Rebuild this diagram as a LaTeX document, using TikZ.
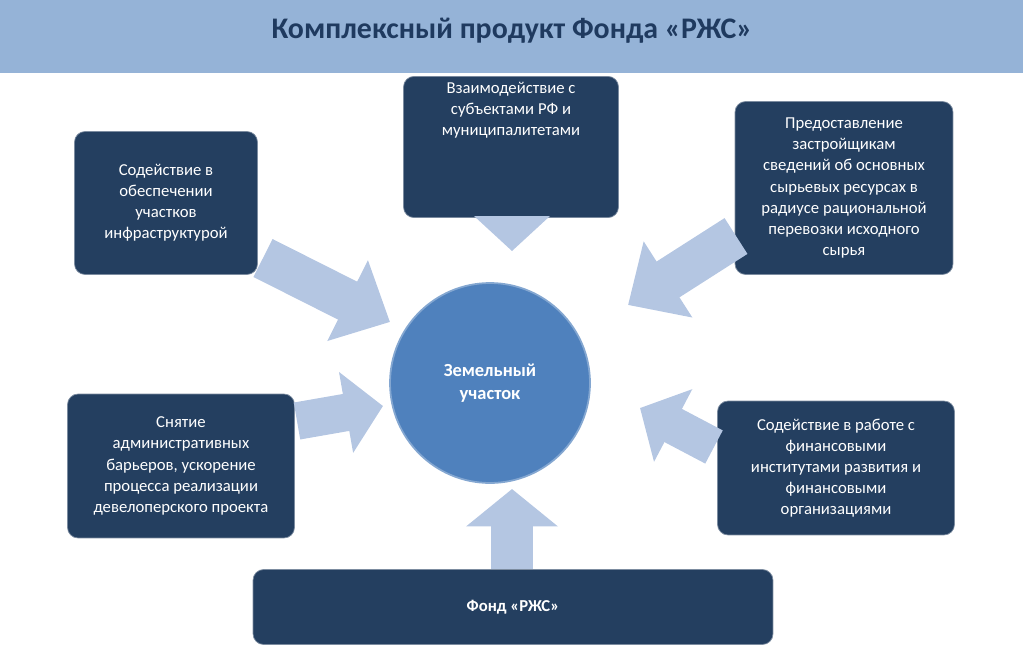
\documentclass[tikz,border=0pt]{standalone}
\usepackage{fontspec}
\setmainfont{Carlito}
\usetikzlibrary{arrows.meta}
\definecolor{banner}{HTML}{95B3D7}
\definecolor{titleblue}{HTML}{1F3A5F}
\definecolor{navy}{HTML}{243F60}
\definecolor{disk}{HTML}{4F81BD}
\definecolor{pale}{HTML}{B4C6E2}
\tikzset{
  infobox/.style={draw=navy!60!white,fill=navy,rounded corners=6pt,text=white,align=center,font=\fontsize{9.5}{12}\selectfont},
  bigarrow/.style={draw=pale,line width=0.85cm,-{Triangle[length=0.95cm,width=1.75cm]}}
}
\begin{document}
\begin{tikzpicture}[x=0.02cm,y=-0.02cm]
		\useasboundingbox (0,0) rectangle (1023,655);
		%Шапка
		\fill[banner] (0,0) rectangle (1023,73);
		\node (title) at (512,31) {\fontsize{17}{20}\selectfont\bfseries\color{titleblue}Комплексный продукт Фонда «РЖС»};
		%Центр
		\node[circle,draw=disk!70!white,line width=1pt,fill=disk,minimum size=4cm,text=white,align=center,font=\fontsize{10.5}{13}\selectfont\bfseries] (plot) at (490,383) {Земельный\\участок};
		%Блоки
		\node[infobox,minimum width=3.66cm,minimum height=2.86cm] (infra) at (166,203) {Содействие в\\обеспечении\\участков\\инфраструктурой};
		\node[infobox,minimum width=4.3cm,minimum height=2.62cm] (subj) at (511,147) {Взаимодействие с\\субъектами РФ и\\муниципалитетами\\[1.1cm]};
		\node[infobox,minimum width=4.36cm,minimum height=3.46cm] (res) at (844,188) {Предоставление\\застройщикам\\сведений об основных\\сырьевых ресурсах в\\радиусе рациональной\\перевозки исходного\\сырья};
		\node[infobox,minimum width=4.54cm,minimum height=2.88cm] (barr) at (181,466) {Снятие\\административных\\барьеров, ускорение\\процесса реализации\\девелоперского проекта};
		\node[infobox,minimum width=4.74cm,minimum height=2.68cm] (fin) at (836,468) {Содействие в работе с\\финансовыми\\институтами развития и\\финансовыми\\организациями};
		\node[infobox,minimum width=10.4cm,minimum height=1.5cm,font=\fontsize{9.5}{12}\selectfont\bfseries] (fund) at (513,607) {Фонд «РЖС»};
		%Стрелки
		\coordinate (a1) at (263,258); \coordinate (b1) at (390,322);
		\coordinate (a2) at (512,216); \coordinate (b2) at (512,251);
		\coordinate (a3) at (736,236); \coordinate (b3) at (628,305);
		\coordinate (a4) at (297,421); \coordinate (b4) at (383,406);
		\coordinate (a5) at (714,447); \coordinate (b5) at (640,408);
		\coordinate (a6) at (512,569); \coordinate (b6) at (512,489);
		\draw[bigarrow] (a1)--(b1);
		\draw[bigarrow] (a3)--(b3);
		\draw[bigarrow,line width=0.75cm,-{Triangle[length=0.75cm,width=1.6cm]}] (a4)--(b4);
		\draw[bigarrow,line width=0.75cm,-{Triangle[length=0.75cm,width=1.6cm]}] (a5)--(b5);
		\draw[bigarrow,line width=0.85cm,-{Triangle[length=0.75cm,width=1.8cm]}] (a6)--(b6);
		\fill[pale] (474,216)--(550,216)--(b2)--cycle;
\end{tikzpicture}
\end{document}
